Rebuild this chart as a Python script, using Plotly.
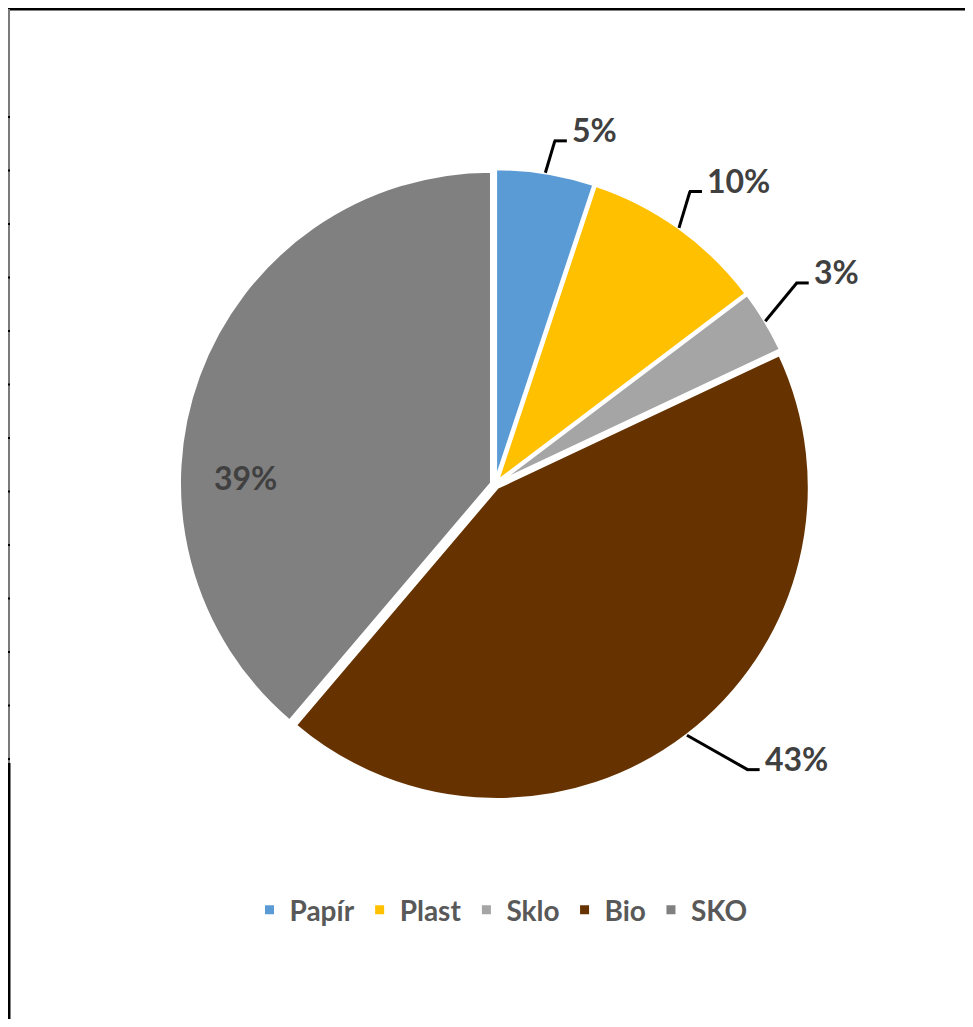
import math
import plotly.graph_objects as go

# ---------------- data ----------------
categories = ["Papír", "Plast", "Sklo", "Bio", "SKO"]
shares = [5.1, 9.6, 3.3, 43.2, 38.8]
colors = ["#5B9BD5", "#FFC000", "#A5A5A5", "#663300", "#808080"]

# ---------------- style / layout ----------------
OFF = 8                              # page body margin of the browser
PAGE_W, PAGE_H = 973, 1027
W, H = PAGE_W - 2 * OFF, PAGE_H - 2 * OFF
CX, CY, R = 495.0, 484.5, 312.0      # pie centre and radius in page pixels
PULL = 0.012
LABEL_FONT = dict(family="Lato", size=32, color="#404040", weight="bold")
# per-label placement: (angle offset in deg, radius factor, outside with leader line?)
label_style = [(0.7, 1.118, True), (-2.0, 1.128, True), (-2.6, 1.163, True),
               (-4.1, 1.221, True), (-18.5, 0.80, False)]


def px(x):
    return (x - OFF) / W


def py(y):
    return 1 - (y - OFF) / H


def polar(theta_deg, rho):
    t = math.radians(theta_deg)
    return CX + rho * math.sin(t), CY - rho * math.cos(t)


half = R * (1 + PULL)
fig = go.Figure(go.Pie(
    labels=categories,
    values=shares,
    sort=False,
    direction="clockwise",
    rotation=0,
    pull=[PULL] * len(shares),
    marker=dict(colors=colors, line=dict(color="white", width=3)),
    textinfo="none",
    hoverinfo="label+percent",
    domain=dict(x=[px(CX - half), px(CX + half)], y=[py(CY + half), py(CY - half)]),
))

total = sum(shares)
shapes = []
annotations = []
cum = 0.0
for cat, v, (dth, k, outside) in zip(categories, shares, label_style):
    mid = (cum + v / 2) / total * 360
    cum += v
    text = f"{round(v / total * 100)}%"
    if outside:
        sx, sy = polar(mid, R * (1 + PULL))
        ex, ey = polar(mid + dth, R * k)
        shapes.append(dict(type="line", xref="paper", yref="paper",
                           x0=px(sx), y0=py(sy), x1=px(ex), y1=py(ey),
                           line=dict(color="black", width=3)))
        shapes.append(dict(type="line", xref="paper", yref="paper",
                           x0=px(ex - 1), y0=py(ey), x1=px(ex + 12), y1=py(ey),
                           line=dict(color="black", width=3)))
        annotations.append(dict(text=text, x=px(ex + 15), y=py(ey - 11),
                                xref="paper", yref="paper", xanchor="left",
                                yanchor="middle", showarrow=False, font=LABEL_FONT))
    else:
        lx, ly = polar(mid + dth, R * k)
        annotations.append(dict(text=text, x=px(lx), y=py(ly),
                                xref="paper", yref="paper", xanchor="center",
                                yanchor="middle", showarrow=False, font=LABEL_FONT))

# frame decorations (chart-area border remnants)
shapes.append(dict(type="line", xref="paper", yref="paper", x0=px(8), y0=py(9),
                   x1=1, y1=py(9), line=dict(color="black", width=3)))
shapes.append(dict(type="line", xref="paper", yref="paper", x0=px(9), y0=py(9),
                   x1=px(9), y1=py(763), line=dict(color="#7a7a7a", width=2)))
shapes.append(dict(type="line", xref="paper", yref="paper", x0=px(9), y0=py(763),
                   x1=px(9), y1=0, line=dict(color="black", width=3)))
for i in range(13):
    ty = 117 + i * 53.5
    shapes.append(dict(type="line", xref="paper", yref="paper", x0=px(8), y0=py(ty),
                       x1=px(10), y1=py(ty), line=dict(color="black", width=2)))

fig.update_layout(
    width=W, height=H,
    margin=dict(l=0, r=0, t=0, b=0),
    paper_bgcolor="white",
    plot_bgcolor="white",
    shapes=shapes,
    annotations=annotations,
    showlegend=True,
    legend=dict(orientation="h", x=px(501), xanchor="center", y=py(910), yanchor="middle",
                font=dict(family="Lato", size=28, color="#595959", weight="bold"),
                traceorder="normal"),
)

fig.write_html("out.html")
